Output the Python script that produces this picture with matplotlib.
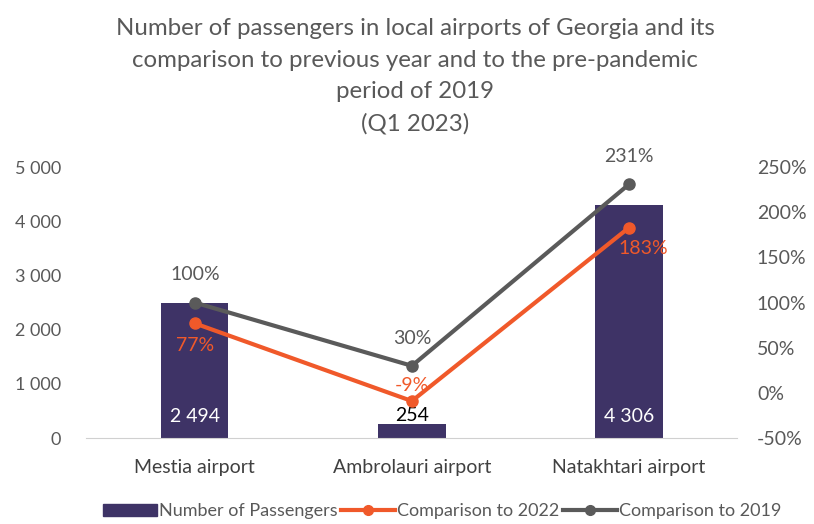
import matplotlib
matplotlib.use("Agg")
import matplotlib.pyplot as plt
from matplotlib.ticker import FuncFormatter
from matplotlib.patches import Patch
from matplotlib.lines import Line2D

plt.rcParams["font.family"] = ["Lato", "DejaVu Sans"]

airports = ["Mestia airport", "Ambrolauri airport", "Natakhtari airport"]
passengers = [2494, 254, 4306]
vs_2022 = [77, -9, 183]
vs_2019 = [100, 30, 231]

bar_color = "#3e3366"
orange = "#f0592a"
gray = "#5a5a5a"
text_gray = "#595959"

fig = plt.figure(figsize=(8.14, 5.24), dpi=100)
ax = fig.add_axes([0.106, 0.164, 0.80, 0.517])
ax2 = ax.twinx()

x = list(range(len(airports)))
ax.bar(x, passengers, width=0.31, color=bar_color, zorder=1)
ax.set_xlim(-0.5, 2.5)
ax.set_ylim(0, 5000)
ax.set_yticks(range(0, 5001, 1000))
ax.yaxis.set_major_formatter(FuncFormatter(lambda v, p: f"{int(v):,}".replace(",", " ")))
ax.set_xticks(x)
ax.set_xticklabels(airports)

for xi, v in zip(x, passengers):
    label = f"{v:,}".replace(",", " ")
    if v > 1000:
        ax.text(xi, 400, label, ha="center", va="center", color="white", fontsize=14)
    else:
        ax.text(xi, v + 170, label, ha="center", va="center", color="black", fontsize=14)

ax2.plot(x, vs_2019, color=gray, lw=3, marker="o", ms=8, zorder=3)
ax2.plot(x, vs_2022, color=orange, lw=3, marker="o", ms=8, zorder=4)
ax2.set_ylim(-50, 250)
ax2.set_yticks(range(-50, 251, 50))
ax2.yaxis.set_major_formatter(FuncFormatter(lambda v, p: f"{int(v)}%"))

for xi, v in zip(x, vs_2019):
    ax2.annotate(f"{v}%", (xi, v), xytext=(0, 20), textcoords="offset points",
                 ha="center", va="center", color=text_gray, fontsize=14)

offsets_2022 = [(0, -16), (0, 11), (10, -15)]
for xi, v, off in zip(x, vs_2022, offsets_2022):
    ax2.annotate(f"{v}%", (xi, v), xytext=off, textcoords="offset points",
                 ha="center", va="center", color=orange, fontsize=14)

for a in (ax, ax2):
    for s in ("top", "left", "right"):
        a.spines[s].set_visible(False)
    a.tick_params(length=0, labelcolor=text_gray)
ax.spines["bottom"].set_color("#d0d0d0")
ax2.spines["bottom"].set_visible(False)
ax.tick_params(axis="y", pad=18, labelsize=13)
ax2.tick_params(axis="y", pad=14, labelsize=14)
ax.tick_params(axis="x", pad=15, labelcolor="#404040", labelsize=14)

fig.text(0.51, 0.965,
         "Number of passengers in local airports of Georgia and its\n"
         "comparison to previous year and to the pre-pandemic\n"
         "period of 2019\n(Q1 2023)",
         ha="center", va="top", fontsize=17.3, color=text_gray, linespacing=1.62)

handles = [
    Patch(color=bar_color),
    Line2D([], [], color=orange, lw=3, marker="o", ms=7),
    Line2D([], [], color=gray, lw=3, marker="o", ms=7),
]
labels = ["Number of Passengers", "Comparison to 2022", "Comparison to 2019"]
fig.legend(handles, labels, loc="lower center", bbox_to_anchor=(0.543, -0.022), ncol=3,
           frameon=False, fontsize=13, handlelength=3.0, handletextpad=0.1,
           columnspacing=0.2, labelcolor=text_gray)

fig.savefig("out.png", dpi=100)
